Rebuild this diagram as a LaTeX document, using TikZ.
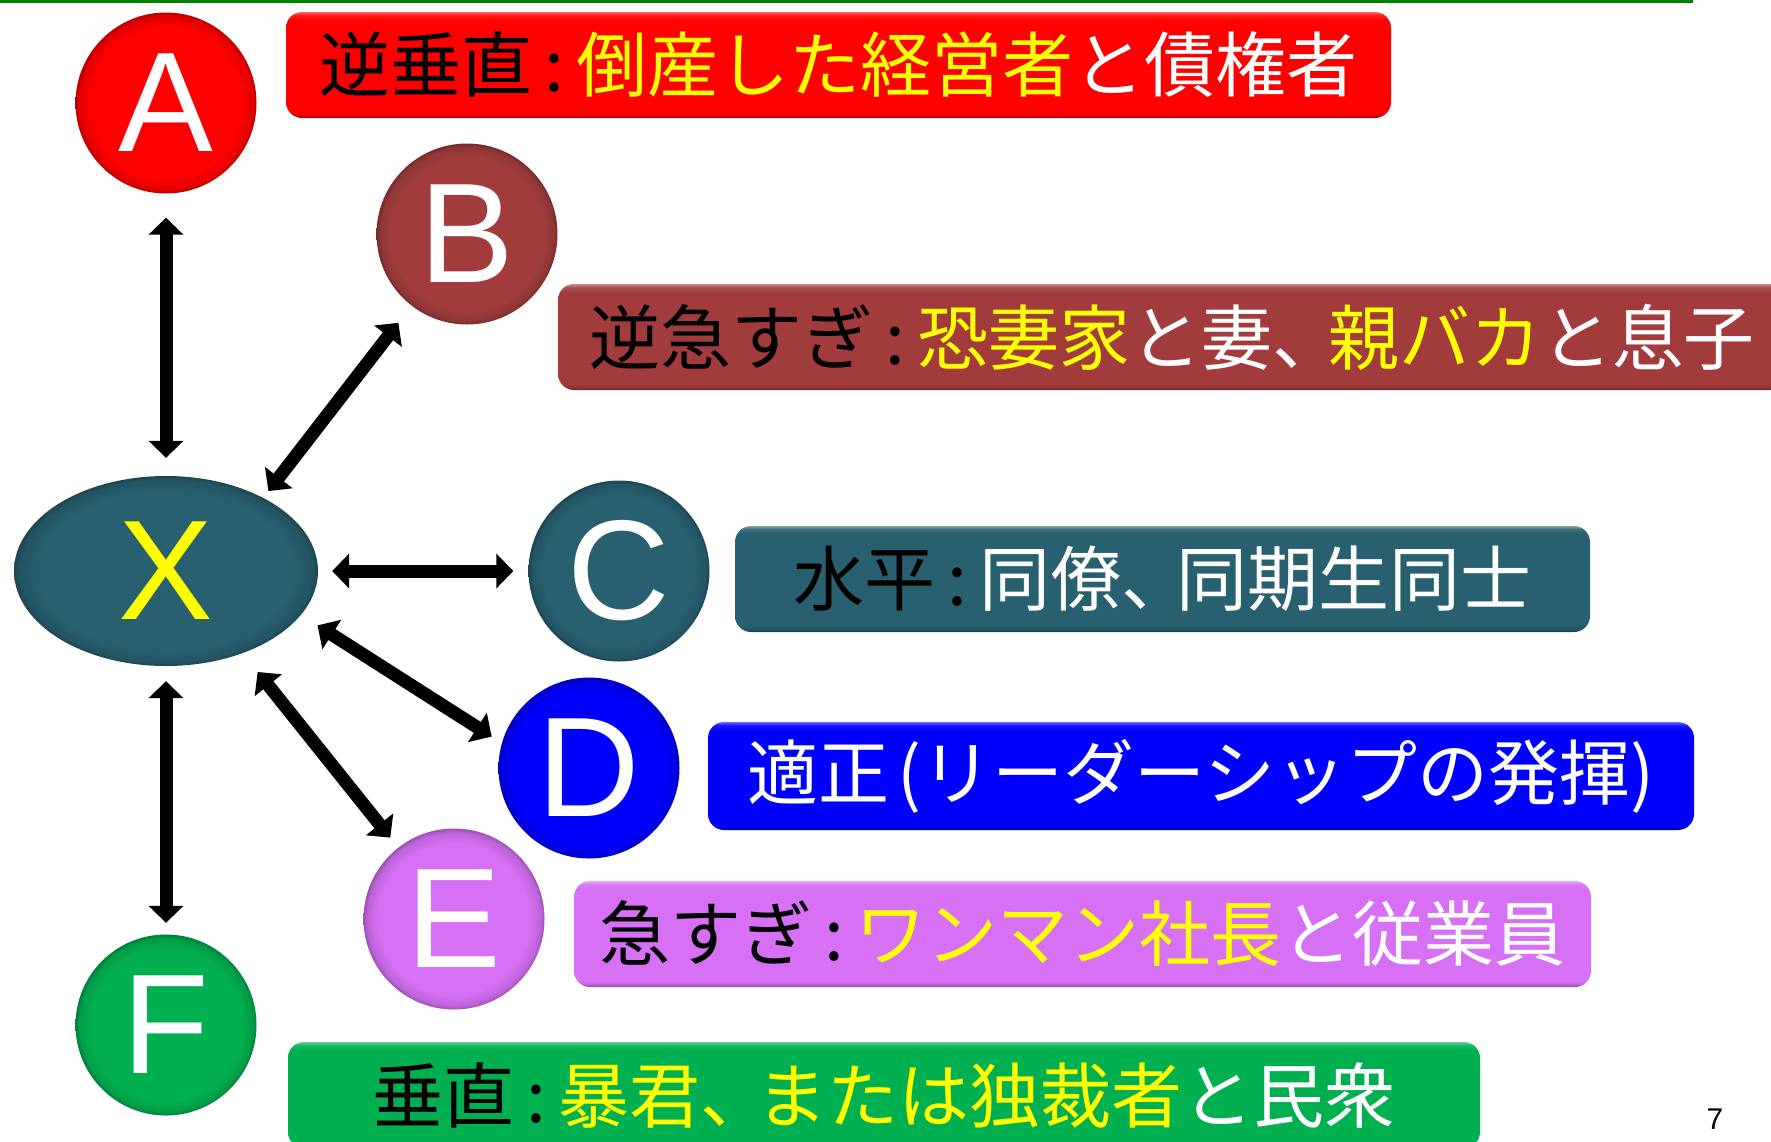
\documentclass[tikz,border=0pt]{standalone}
\usepackage{fontspec}
\setmainfont{Liberation Sans}
\newfontfamily\jpfont{Noto Sans CJK JP}
\newfontfamily\latfont{Liberation Sans}
\usetikzlibrary{arrows.meta,shapes.geometric}
\definecolor{cA}{RGB}{255,0,0}
\definecolor{cB}{RGB}{162,60,60}
\definecolor{cC}{RGB}{40,96,112}
\definecolor{cD}{RGB}{0,0,255}
\definecolor{cE}{RGB}{214,112,245}
\definecolor{cF}{RGB}{0,176,80}
\definecolor{topgreen}{RGB}{0,128,0}
\definecolor{ylw}{RGB}{255,255,0}
\colorlet{basecol}{red}
\pgfdeclareradialshading[basecol]{bevel}{\pgfpoint{0bp}{0bp}}{color(0bp)=(basecol); color(21bp)=(basecol); color(24bp)=(basecol!88!black); color(25bp)=(basecol!72!black); color(50bp)=(basecol!72!black)}
\pgfdeclareverticalshading[basecol]{vbevel}{100bp}{color(0bp)=(basecol!65!black); color(25bp)=(basecol!65!black); color(26.5bp)=(basecol!90!black); color(28bp)=(basecol); color(71bp)=(basecol); color(73.5bp)=(basecol!90!white); color(75bp)=(basecol!60!white); color(100bp)=(basecol!60!white)}
\newcommand{\blk}[1]{\textcolor{black}{#1}}
\newcommand{\ylwtxt}[1]{\textcolor{ylw}{#1}}
\newcommand{\cln}{\kern.17em:\kern.17em}
\newcommand{\tcm}{、\kern-.22em}
\tikzset{
  bevelcol/.code={\colorlet{basecol}{#1}},
  letterdisc/.style={circle, minimum size=181pt, inner sep=0pt, shade, shading=bevel, bevelcol=#1, text=white,
    font=\latfont\fontsize{142pt}{142pt}\selectfont},
  tbox/.style={rectangle, rounded corners=16pt, minimum height=106pt, inner sep=0pt, shade, shading=vbevel, bevelcol=#1,
    text=white, font=\jpfont\fontsize{71pt}{71pt}\selectfont},
  conn/.style={line width=13pt, {Triangle[length=17pt,width=34pt]}-{Triangle[length=17pt,width=34pt]}},
}
\begin{document}
\begin{tikzpicture}[x=1pt,y=-1pt]
\useasboundingbox (0,0) rectangle (1771,1141);
\draw[topgreen, line width=3.5pt] (0,1.7) -- (1693,1.7);
% text boxes
\node[tbox=cA, minimum width=1105pt] (ta) at (838.5,65) {\blk{逆垂直\cln}\ylwtxt{倒産した経営者}と債権者};
\node[tbox=cB, minimum width=1228pt] (tb) at (1172,337) {\blk{逆急すぎ\cln}\ylwtxt{恐妻家}と妻\tcm\ylwtxt{親バカ}と息子};
\node[tbox=cC, minimum width=855pt] (tc) at (1162.5,579) {\blk{水平\cln}同僚\tcm 同期生同士};
\node[tbox=cD, minimum width=986pt, minimum height=108pt] (td) at (1201,776) {適正\kern.12em(リーダーシップの発揮)};
\node[tbox=cE, minimum width=1017pt] (te) at (1082.5,934) {\blk{急すぎ\cln}\ylwtxt{ワンマン社長}と従業員};
\node[tbox=cF, minimum width=1192pt] (tf) at (884,1095) {\blk{垂直\cln}\ylwtxt{暴君\tcm または独裁者}と民衆};
% discs
\node[letterdisc=cA] (A) at (166,103) {A};
\node[letterdisc=cB] (B) at (467,234) {B};
\node[letterdisc=cC] (C) at (619,571) {C};
\node[letterdisc=cD] (D) at (589,768) {D};
\node[letterdisc=cE] (E) at (454,919) {E};
\node[letterdisc=cF] (F) at (166,1025) {F};
\node[ellipse, minimum width=304pt, minimum height=190pt, inner sep=0pt, shade, shading=bevel, bevelcol=cC,
  text=ylw, font=\latfont\fontsize{142pt}{142pt}\selectfont] (X) at (166,571) {X};
% connectors
\draw[conn, shorten <=18pt, shorten >=24pt] (X.north) -- (A.south);
\draw[conn, shorten <=8.5pt, shorten >=21.5pt] (X.37) -- (B);
\draw[conn, shorten <=14pt, shorten >=15pt] (X.east) -- (C.west);
\draw[conn, shorten <=19.5pt, shorten >=12pt] (X.-18) -- (D.164.5);
\draw[conn, shorten <=24pt, shorten >=12.7pt] (X.-47) -- (E.128);
\draw[conn, shorten <=15pt, shorten >=11.5pt] (X.south) -- (F.north);
% page number
\node[font=\latfont\fontsize{30pt}{30pt}\selectfont, text=black] (pg) at (1715,1119) {7};
\end{tikzpicture}
\end{document}
